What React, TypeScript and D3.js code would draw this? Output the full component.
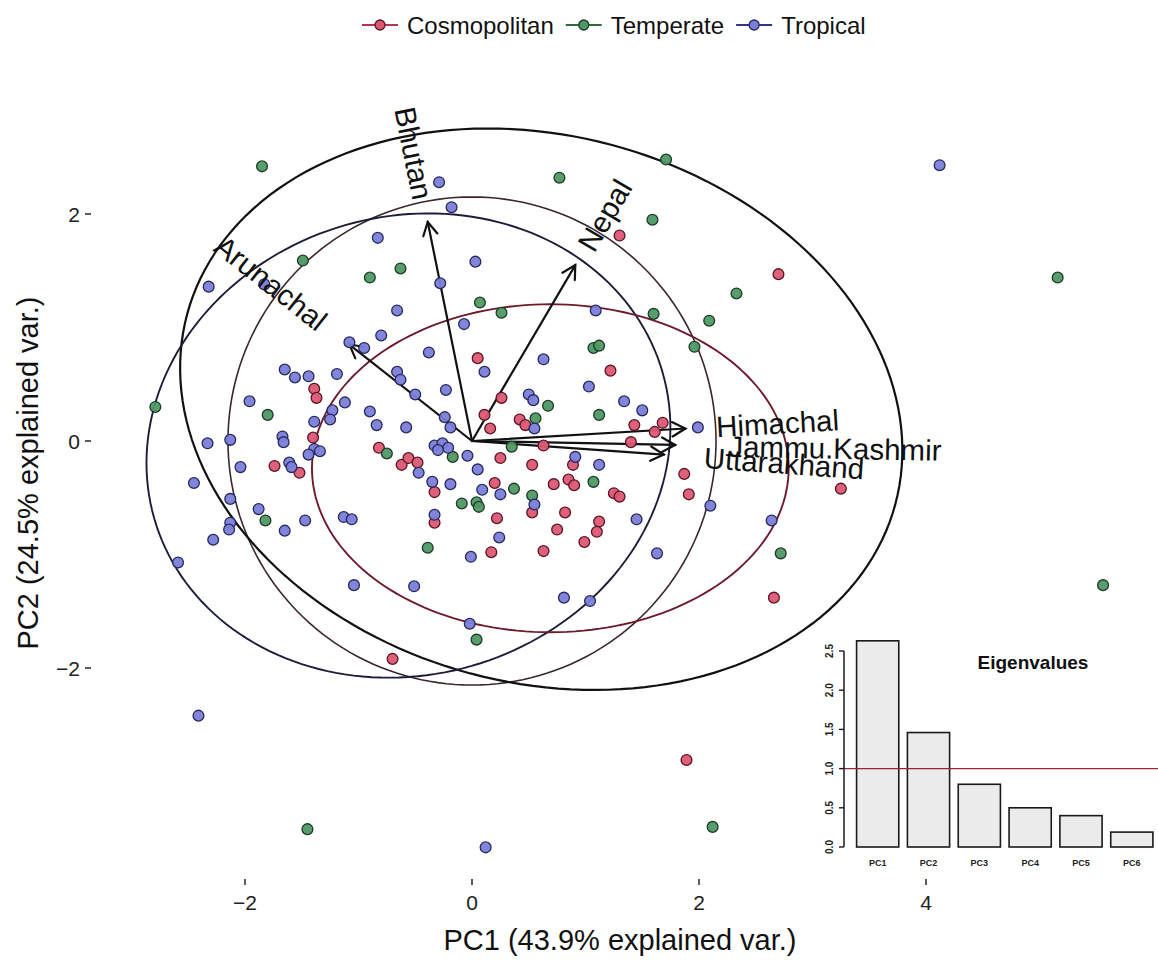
import React from 'react';
import * as d3 from 'd3';

const W = 1158;
const H = 963;
const FONT = '"Liberation Sans", Arial, Helvetica, sans-serif';

// ---------- data ----------
const groupNames = ['Cosmopolitan', 'Temperate', 'Tropical'];
const groupFill = ['#dc5773', '#4f9864', '#7b7fd8'];
const groupStroke = ['#5a1522', '#1d3a25', '#26285e'];
const groupLine = ['#b8334f', '#2f6a42', '#34368c'];

const cosmopolitan: [number, number][] = [
  [1.30, 1.81], [2.70, 1.47], [0.05, 0.73], [-1.39, 0.46], [-1.37, 0.38], [0.26, 0.38], [0.11, 0.23],
  [0.16, 0.11], [0.42, 0.19], [0.47, 0.14], [-1.40, 0.03], [-1.74, -0.22], [-1.52, -0.28], [-0.82, -0.06],
  [-0.62, -0.21], [-0.56, -0.15], [-0.48, -0.19], [0.25, -0.15], [-0.33, -0.45], [0.20, -0.37], [-0.33, -0.72],
  [0.22, -0.68], [0.17, -0.98], [1.22, 0.62], [1.43, 0.14], [1.68, 0.16], [1.61, 0.08], [1.40, -0.01],
  [0.63, -0.04], [0.53, -0.21], [0.89, -0.21], [0.72, -0.38], [0.85, -0.34], [0.90, -0.39], [1.25, -0.46],
  [1.30, -0.49], [0.53, -0.63], [0.82, -0.63], [1.12, -0.71], [1.10, -0.80], [0.75, -0.78], [0.63, -0.97],
  [0.99, -0.89], [1.87, -0.29], [1.91, -0.47], [3.25, -0.42], [2.66, -1.38], [-0.70, -1.92], [1.89, -2.81],
];

const temperate: [number, number][] = [
  [-1.85, 2.42], [0.77, 2.32], [1.71, 2.48], [1.59, 1.95], [2.33, 1.30], [5.16, 1.44], [-1.49, 1.59],
  [-0.90, 1.44], [-0.63, 1.52], [0.07, 1.22], [0.26, 1.13], [1.60, 1.12], [2.09, 1.06], [1.07, 0.82],
  [1.12, 0.84], [1.96, 0.83], [0.67, 0.31], [1.12, 0.23], [0.56, 0.20], [0.35, -0.05], [-2.79, 0.30],
  [-1.80, 0.23], [-0.75, -0.11], [-0.17, -0.14], [0.37, -0.42], [1.07, -0.36], [-0.09, -0.55], [0.04, -0.54],
  [0.06, -0.58], [0.53, -0.48], [-1.82, -0.70], [-0.39, -0.94], [2.72, -0.99], [0.04, -1.75], [-1.45, -3.42],
  [2.12, -3.40], [5.56, -1.27],
];

const tropical: [number, number][] = [
  [-0.29, 2.28], [-0.18, 2.06], [-0.83, 1.79], [0.03, 1.58], [-2.32, 1.36], [-1.83, 1.38], [-0.28, 1.39],
  [-0.66, 1.15], [1.09, 1.15], [-0.07, 1.03], [-0.80, 0.93], [-1.08, 0.87], [-0.95, 0.82], [-0.38, 0.78],
  [0.63, 0.72], [4.12, 2.43], [0.11, 0.61], [-1.65, 0.63], [-1.56, 0.56], [-1.44, 0.57], [-1.19, 0.59],
  [-0.66, 0.61], [-0.63, 0.54], [-0.50, 0.41], [-0.23, 0.45], [1.03, 0.48], [0.50, 0.41], [0.54, 0.36],
  [1.34, 0.35], [1.50, 0.27], [-1.96, 0.35], [-1.12, 0.34], [-1.23, 0.27], [-1.25, 0.19], [-0.90, 0.26],
  [-0.84, 0.14], [-1.39, 0.17], [0.55, 0.11], [-1.67, 0.04], [-1.66, -0.01], [-0.58, 0.12], [-0.24, 0.21],
  [-0.19, 0.12], [-1.39, -0.07], [-1.44, -0.12], [-1.34, -0.09], [-2.33, -0.02], [-2.13, 0.01], [-2.04, -0.23],
  [-1.61, -0.19], [-1.59, -0.23], [-2.45, -0.37], [-0.33, -0.04], [-0.26, -0.02], [-0.21, -0.06], [-0.30, -0.08],
  [-0.04, -0.13], [-0.47, -0.28], [0.05, -0.25], [-0.35, -0.36], [-0.19, -0.38], [0.09, -0.43], [0.25, -0.47],
  [0.91, -0.14], [1.12, -0.21], [0.55, -0.56], [-2.13, -0.51], [-1.88, -0.60], [-2.13, -0.72], [-2.14, -0.78],
  [-1.47, -0.70], [-1.65, -0.79], [-2.28, -0.87], [-1.13, -0.67], [-1.06, -0.69], [-0.33, -0.65], [0.24, -0.85],
  [1.45, -0.69], [-0.01, -1.02], [1.63, -0.99], [-2.59, -1.07], [-1.04, -1.27], [-0.51, -1.28], [-0.02, -1.61],
  [0.81, -1.38], [1.04, -1.41], [1.99, 0.12], [2.10, -0.57], [2.64, -0.70], [-2.41, -2.42], [0.12, -3.58],
];

// group ellipses (data units)
const ellipseGroup = ['Temperate', 'Tropical', 'Cosmopolitan'];
const ellipseCX = [0.61, -0.56, 0.69];
const ellipseCY = [0.28, -0.04, -0.24];
const ellipseA = [3.23, 2.33, 2.10];
const ellipseB = [2.41, 2.02, 1.445];
const ellipseAngle = [-15, 16, 0];
const ellipseColor = ['#111111', '#1c1d3a', '#6e1a2c'];
const circleRadius = 2.15;

// variable loadings
const varNames = ['Arunachal', 'Bhutan', 'Nepal', 'Himachal', 'Jammu.Kashmir', 'Uttarakhand'];
const varPC1 = [-1.08, -0.39, 0.91, 1.88, 1.79, 1.69];
const varPC2 = [0.85, 1.93, 1.55, 0.11, -0.035, -0.12];

// eigenvalues inset
const eigenLabels = ['PC1', 'PC2', 'PC3', 'PC4', 'PC5', 'PC6'];
const eigenValues = [2.63, 1.46, 0.80, 0.50, 0.40, 0.19];
const eigenTicks = [0, 0.5, 1, 1.5, 2, 2.5];

const xTicks = [-2, 0, 2, 4];
const yTicks = [-2, 0, 2];

const fmtTick = (v: number) => (v < 0 ? '\u2212' + Math.abs(v) : String(v));

function measure(s: string, size: number): number {
  try {
    const c = document.createElement('canvas').getContext('2d');
    if (c) {
      c.font = `${size}px "Liberation Sans", Arial, sans-serif`;
      return c.measureText(s).width;
    }
  } catch (e) {
    /* ignore */
  }
  return s.length * size * 0.55;
}

export default function App() {
  const x = d3.scaleLinear().domain([-2, 4]).range([245, 926]);
  const y = d3.scaleLinear().domain([-2, 2]).range([668, 214]);

  const line = d3
    .line<[number, number]>()
    .x((d) => x(d[0]))
    .y((d) => y(d[1]))
    .curve(d3.curveLinearClosed);

  const ellipsePath = (cx: number, cy: number, a: number, b: number, angDeg: number) => {
    const th = (angDeg * Math.PI) / 180;
    const pts: [number, number][] = d3.range(0, 360, 2).map((deg) => {
      const t = (deg * Math.PI) / 180;
      return [
        cx + a * Math.cos(t) * Math.cos(th) - b * Math.sin(t) * Math.sin(th),
        cy + a * Math.cos(t) * Math.sin(th) + b * Math.sin(t) * Math.cos(th),
      ];
    });
    return line(pts) || '';
  };

  const groupsData = [cosmopolitan, temperate, tropical];

  // inset scales
  const ex = d3.scaleBand<string>().domain(eigenLabels).range([851.5, 1158]).paddingInner(0.17).paddingOuter(0.1);
  const ey = d3.scaleLinear().domain([0, 2.5]).range([847, 651]);

  const ox = x(0);
  const oy = y(0);

  // legend layout
  const LEG_FS = 24;
  const legendItems: { key: number; text: number }[] = [];
  let cursor = 380;
  groupNames.forEach((g, i) => {
    legendItems.push({ key: cursor, text: cursor + 27 });
    cursor = cursor + 27 + measure(g, LEG_FS) + 30;
  });

  return (
    <svg
      width={W}
      height={H}
      viewBox={`0 0 ${W} ${H}`}
      style={{ position: 'absolute', left: 0, top: 0, background: '#fff' }}
      fontFamily={FONT}
    >
      <rect x={0} y={0} width={W} height={H} fill="#ffffff" />

      {/* correlation circle */}
      <path d={ellipsePath(0, 0, circleRadius, circleRadius, 0)} fill="none" stroke="#3b2629" strokeWidth={1.6} />

      {/* group ellipses */}
      {ellipseGroup.map((g, i) => (
        <path
          key={g}
          d={ellipsePath(ellipseCX[i], ellipseCY[i], ellipseA[i], ellipseB[i], ellipseAngle[i])}
          fill="none"
          stroke={ellipseColor[i]}
          strokeWidth={i === 0 ? 2.2 : 1.9}
        />
      ))}

      {/* arrows */}
      {varNames.map((n, i) => {
        const tx = x(varPC1[i]);
        const ty = y(varPC2[i]);
        const ang = Math.atan2(ty - oy, tx - ox);
        const L = 15;
        const h = 0.5;
        return (
          <g key={n} stroke="#111" strokeWidth={2.2} fill="none" strokeLinecap="round">
            <line x1={ox} y1={oy} x2={tx} y2={ty} />
            <polyline
              points={`${tx - L * Math.cos(ang - h)},${ty - L * Math.sin(ang - h)} ${tx},${ty} ${tx - L * Math.cos(ang + h)},${ty - L * Math.sin(ang + h)}`}
            />
          </g>
        );
      })}

      {/* points */}
      {groupsData.map((pts, gi) => (
        <g key={groupNames[gi]}>
          {pts.map((p, j) => (
            <circle
              key={j}
              cx={x(p[0])}
              cy={y(p[1])}
              r={5.4}
              fill={groupFill[gi]}
              stroke={groupStroke[gi]}
              strokeWidth={1.3}
              fillOpacity={0.95}
            />
          ))}
        </g>
      ))}

      {/* variable labels */}
      {varNames.map((n, i) => {
        const vx = varPC1[i];
        const vy = varPC2[i];
        const angle = (Math.atan(vy / vx) * 180) / Math.PI;
        const w = measure(n, 29.5);
        const pos = vx >= 0;
        return (
          <text
            key={n}
            transform={`translate(${x(vx)},${y(vy)}) rotate(${-angle})`}
            textAnchor={pos ? 'start' : 'end'}
            dx={pos ? 0.25 * w : -0.25 * w}
            dy="0.36em"
            fontSize={29.5}
            fill="#111"
          >
            {n}
          </text>
        );
      })}

      {/* y axis ticks */}
      {yTicks.map((t) => (
        <g key={'y' + t}>
          <line x1={85} x2={91} y1={y(t)} y2={y(t)} stroke="#333" strokeWidth={1.6} />
          <text x={80} y={y(t)} dy="0.36em" textAnchor="end" fontSize={21} fill="#222">
            {fmtTick(t)}
          </text>
        </g>
      ))}

      {/* x axis ticks */}
      {xTicks.map((t) => (
        <g key={'x' + t}>
          <line x1={x(t)} x2={x(t)} y1={879} y2={885} stroke="#333" strokeWidth={1.6} />
          <text x={x(t)} y={910} textAnchor="middle" fontSize={21} fill="#222">
            {fmtTick(t)}
          </text>
        </g>
      ))}

      {/* axis titles */}
      <text x={620} y={950} textAnchor="middle" fontSize={29} fill="#111">
        PC1 (43.9% explained var.)
      </text>
      <text transform="translate(38,473) rotate(-90)" textAnchor="middle" fontSize={29} fill="#111">
        PC2 (24.5% explained var.)
      </text>

      {/* legend */}
      {groupNames.map((g, i) => (
        <g key={'leg' + g}>
          <line
            x1={legendItems[i].key - 18}
            x2={legendItems[i].key + 18}
            y1={25}
            y2={25}
            stroke={groupLine[i]}
            strokeWidth={2.2}
          />
          <circle cx={legendItems[i].key} cy={25} r={5} fill={groupFill[i]} stroke={groupStroke[i]} strokeWidth={1.3} />
          <text x={legendItems[i].text} y={25} dy="0.36em" fontSize={LEG_FS} fill="#111">
            {g}
          </text>
        </g>
      ))}

      {/* eigenvalue inset */}
      <g>
        <rect x={812} y={632} width={346} height={244} fill="#ffffff" />
        {eigenLabels.map((l, i) => (
          <rect
            key={l}
            x={ex(l)}
            y={ey(eigenValues[i])}
            width={ex.bandwidth()}
            height={ey(0) - ey(eigenValues[i])}
            fill="#ebebeb"
            stroke="#1a1a1a"
            strokeWidth={1.6}
          />
        ))}
        <line x1={844} x2={1158} y1={ey(1)} y2={ey(1)} stroke="#9b2335" strokeWidth={1.4} />
        <line x1={844} x2={844} y1={ey(0)} y2={ey(2.5)} stroke="#1a1a1a" strokeWidth={1.5} />
        {eigenTicks.map((t) => (
          <g key={'e' + t}>
            <line x1={839} x2={844} y1={ey(t)} y2={ey(t)} stroke="#1a1a1a" strokeWidth={1.4} />
            <text
              transform={`translate(833,${ey(t)}) rotate(-90)`}
              textAnchor="middle"
              fontSize={10}
              fontWeight="bold"
              fill="#222"
            >
              {t.toFixed(1)}
            </text>
          </g>
        ))}
        {eigenLabels.map((l) => (
          <text
            key={'el' + l}
            x={(ex(l) || 0) + ex.bandwidth() / 2}
            y={866}
            textAnchor="middle"
            fontSize={9}
            fontWeight="bold"
            fill="#222"
          >
            {l}
          </text>
        ))}
        <text x={1033} y={669} textAnchor="middle" fontSize={19} fontWeight="bold" fill="#111">
          Eigenvalues
        </text>
      </g>
    </svg>
  );
}
